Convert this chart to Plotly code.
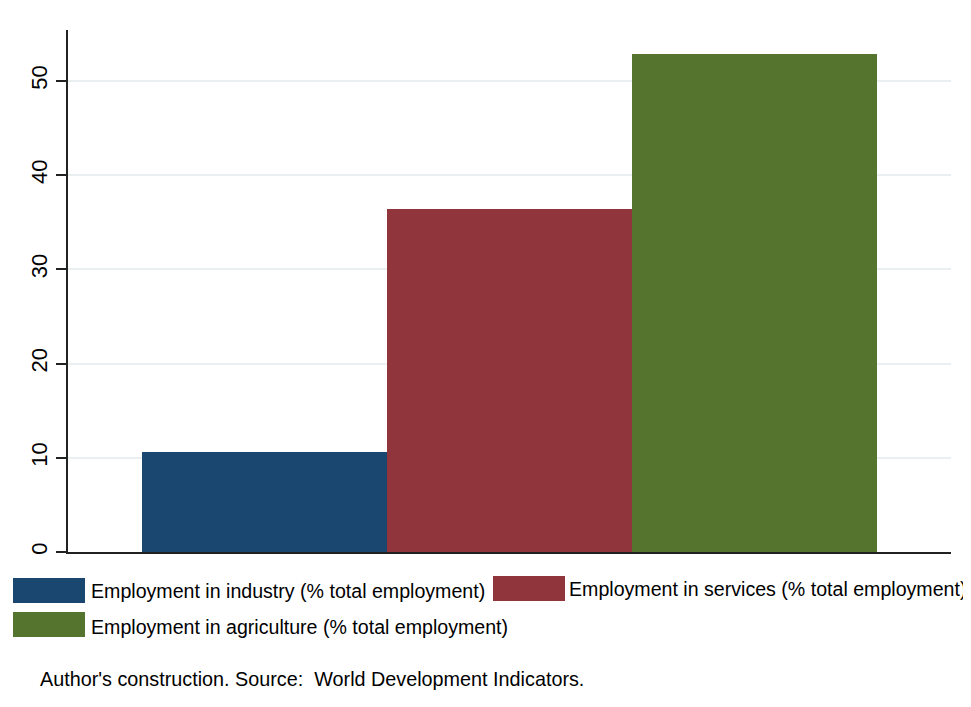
import plotly.graph_objects as go

# ---- data ----
series_names = [
    "Employment in industry (% total employment)",
    "Employment in services (% total employment)",
    "Employment in agriculture (% total employment)",
]
series_values = [10.65, 36.4, 52.87]
series_colors = ["#1a476f", "#90353b", "#55752f"]
y_tick_vals = [0, 10, 20, 30, 40, 50]
y_tick_text = ["0", "10", "20", "30", "40", "50"]
caption = "Author's construction. Source:\u00a0 World Development Indicators."

# the page puts the figure at an 8px offset; work in reference pixel coords
OFF = 8
W, H = 971 - OFF, 707 - 2 * OFF
L, R, T, B = 68 - OFF, 20, 30 - OFF, 155 - OFF
PW = W - L - R
PH = H - T - B


def px_x(px):
    return (px - OFF - L) / PW


def px_y(py):
    return (H - B - (py - OFF)) / PH


FONT = "Liberation Sans, Arial, sans-serif"

fig = go.Figure()
for i, (name, val, col) in enumerate(zip(series_names, series_values, series_colors)):
    fig.add_trace(go.Bar(
        x=[i], y=[val], name=name, width=1,
        marker=dict(color=col, line=dict(width=0)),
        showlegend=False,
    ))

fig.update_layout(
    width=W, height=H,
    margin=dict(l=L, r=R, t=T, b=B, pad=0),
    paper_bgcolor="white", plot_bgcolor="white",
    bargap=0,
    font=dict(family=FONT, color="black"),
    xaxis=dict(range=[-0.802, 2.802], showgrid=False, zeroline=False,
               showticklabels=False, ticks="", showline=True,
               linecolor="#222222", linewidth=1.5),
    yaxis=dict(range=[0, 55.4], tickvals=y_tick_vals, ticktext=y_tick_text,
               tickangle=-90, ticks="outside", ticklen=10, tickwidth=1.5,
               tickcolor="#222222", showline=True, linecolor="#222222",
               linewidth=1.5, showgrid=True, gridcolor="#eaf0f2", gridwidth=1.5,
               zeroline=False, tickfont=dict(size=22, family=FONT, color="black")),
)

# legend (drawn in Stata style with large key boxes)
legend_layout = [
    # box x0, x1, y0, y1, text x, text y
    (13, 85, 578, 603, 89, 591),
    (493, 565, 576, 601, 567, 589),
    (13, 85, 612, 637, 89, 627),
]
for (bx0, bx1, by0, by1, tx, ty), name, col in zip(legend_layout, series_names, series_colors):
    fig.add_shape(type="rect", xref="paper", yref="paper",
                  x0=px_x(bx0), x1=px_x(bx1), y0=px_y(by1), y1=px_y(by0),
                  fillcolor=col, line=dict(width=0))
    fig.add_annotation(xref="paper", yref="paper", x=px_x(tx), y=px_y(ty),
                       text=name, showarrow=False, xanchor="left", yanchor="middle",
                       font=dict(size=19.6, family=FONT, color="black"))

fig.add_annotation(xref="paper", yref="paper", x=px_x(38), y=px_y(679),
                   text=caption, showarrow=False, xanchor="left", yanchor="middle",
                   font=dict(size=19.8, family=FONT, color="black"))

fig.write_html("out.html")
